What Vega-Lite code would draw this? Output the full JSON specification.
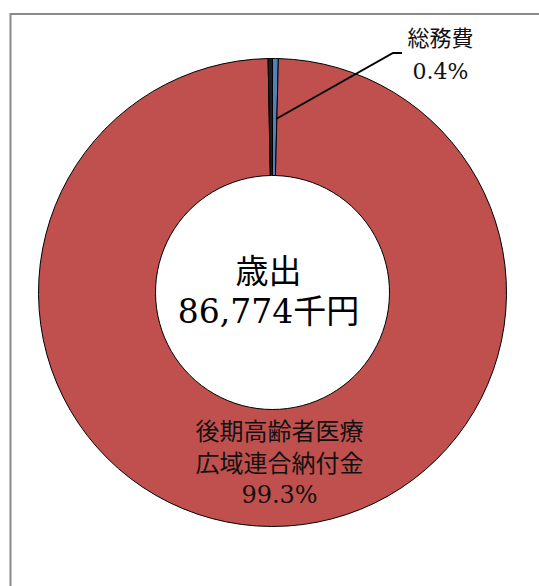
{
  "$schema": "https://vega.github.io/schema/vega-lite/v6.json",
  "width": 539,
  "height": 586,
  "autosize": "none",
  "padding": 0,
  "background": "white",
  "config": {"view": {"stroke": null}},
  "datasets": {
    "slices": [
      {"item": "総務費", "label": "総務費\n0.4%", "value": 0.4, "order": 1},
      {"item": "後期高齢者医療広域連合納付金", "label": "後期高齢者医療\n広域連合納付金\n99.3%", "value": 99.3, "order": 2},
      {"item": "その他", "label": "", "value": 0.3, "order": 3}
    ],
    "leader": [
      {"px": 3.5, "py": 173.5, "k": 1},
      {"px": 120.5, "py": 239.5, "k": 2},
      {"px": 129.5, "py": 239.5, "k": 3}
    ],
    "frame": [
      {"px": -262, "py": -400, "k": 1},
      {"px": -262, "py": 278.5, "k": 2},
      {"px": 400, "py": 278.5, "k": 3}
    ]
  },
  "layer": [
    {
      "data": {"name": "frame"},
      "mark": {"type": "line", "stroke": "#8a8a8a", "strokeWidth": 2, "clip": true},
      "encoding": {
        "x": {"field": "px", "type": "quantitative", "scale": {"domain": [-272.5, 266.5], "nice": false, "zero": false}, "axis": null},
        "y": {"field": "py", "type": "quantitative", "scale": {"domain": [-293.5, 292.5], "nice": false, "zero": false}, "axis": null},
        "order": {"field": "k"}
      }
    },
    {
      "data": {"name": "slices"},
      "mark": {"type": "arc", "outerRadius": 234, "innerRadius": 117, "stroke": "#000000", "strokeWidth": 1},
      "encoding": {
        "x": {"datum": 0, "type": "quantitative"},
        "y": {"datum": 0, "type": "quantitative"},
        "theta": {"field": "value", "type": "quantitative", "stack": true},
        "order": {"field": "order"},
        "color": {
          "field": "item",
          "type": "nominal",
          "scale": {"domain": ["総務費", "後期高齢者医療広域連合納付金", "その他"], "range": ["#4F81BD", "#C0504D", "#1c1c1c"]},
          "legend": null
        }
      }
    },
    {
      "data": {"name": "leader"},
      "mark": {"type": "line", "stroke": "#000000", "strokeWidth": 2},
      "encoding": {
        "x": {"field": "px", "type": "quantitative"},
        "y": {"field": "py", "type": "quantitative"},
        "order": {"field": "k"}
      }
    },
    {
      "data": {"values": [{"t": "歳出\n86,774千円"}]},
      "mark": {"type": "text", "font": "DejaVu Serif, Noto Sans CJK JP", "fontSize": 33, "lineHeight": 40, "lineBreak": "\n", "align": "center", "baseline": "middle", "color": "#000000", "dx": -4, "dy": -20},
      "encoding": {
        "x": {"datum": 0, "type": "quantitative"},
        "y": {"datum": 0, "type": "quantitative"},
        "text": {"field": "t"}
      }
    },
    {
      "data": {"name": "slices"},
      "transform": [{"filter": "datum.order == 2"}],
      "mark": {"type": "text", "font": "DejaVu Serif, Noto Sans CJK JP", "fontSize": 24, "lineHeight": 31.5, "lineBreak": "\n", "align": "center", "baseline": "middle", "color": "#111111", "dx": 7, "dy": 140.5},
      "encoding": {
        "x": {"datum": 0, "type": "quantitative"},
        "y": {"datum": 0, "type": "quantitative"},
        "text": {"field": "label"}
      }
    },
    {
      "data": {"name": "slices"},
      "transform": [{"filter": "datum.order == 1"}],
      "mark": {"type": "text", "font": "DejaVu Serif, Noto Sans CJK JP", "fontSize": 22, "lineHeight": 33, "lineBreak": "\n", "align": "center", "baseline": "middle", "color": "#111111", "dx": 168, "dy": -253.5},
      "encoding": {
        "x": {"datum": 0, "type": "quantitative"},
        "y": {"datum": 0, "type": "quantitative"},
        "text": {"field": "label"}
      }
    }
  ]
}
